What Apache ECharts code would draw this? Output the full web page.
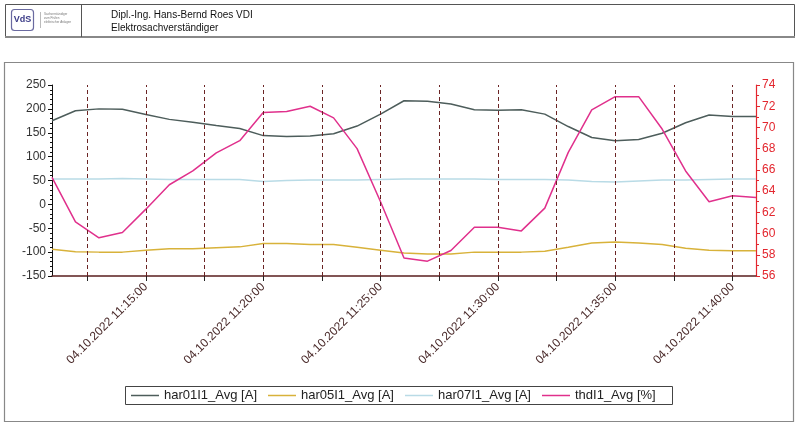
<!DOCTYPE html>
<html>
<head>
<meta charset="utf-8">
<script src="https://cdn.jsdelivr.net/npm/echarts@6/dist/echarts.min.js"></script>
<style>
html,body{margin:0;padding:0;background:#fff;}
#c{width:800px;height:428px;}
</style>
</head>
<body>
<div id="c"></div>
<script>
const dateLabel = '04.10.2022';
const times = ['11:11:00','11:12:00','11:13:00','11:14:00','11:15:00','11:16:00','11:17:00','11:18:00','11:19:00','11:20:00',
  '11:21:00','11:22:00','11:23:00','11:24:00','11:25:00','11:26:00','11:27:00','11:28:00','11:29:00','11:30:00',
  '11:31:00','11:32:00','11:33:00','11:34:00','11:35:00','11:36:00','11:37:00','11:38:00','11:39:00','11:40:00','11:41:00'];
const har01 = [175,196,200,199,188,178,172,165,159,144,142,143,148,164,189,217,216,210,198,197,198,189,163,140,133,136,149,171,187,184,184];
const har05 = [-94,-99,-100,-100,-96,-93,-93,-91,-89,-82,-82,-84,-84,-90,-96,-102,-104,-104,-100,-100,-100,-98,-90,-81,-79,-81,-84,-92,-96,-97,-97];
const har07 = [53,53,53,54,53,52,52,52,52,48,50,51,51,51,52,53,53,53,53,52,52,52,51,48,47,49,51,51,52,53,53];
const thd = [65.3,61.1,59.6,60.1,62.3,64.6,65.9,67.6,68.75,71.4,71.5,72.0,70.9,68.0,63.0,57.7,57.4,58.4,60.6,60.6,60.25,62.4,67.65,71.66,72.9,72.9,69.85,65.9,63.0,63.56,63.4];
const tickTimes = ['11:12:30','11:15:00','11:17:30','11:20:00','11:22:30','11:25:00','11:27:30','11:30:00','11:32:30','11:35:00','11:37:30','11:40:00'];
const labelTimes = ['11:15:00','11:20:00','11:25:00','11:30:00','11:35:00','11:40:00'];
const seriesNames = ['har01I1_Avg [A]','har05I1_Avg [A]','har07I1_Avg [A]','thdI1_Avg [%]'];

function toMin(s){const p=s.split(':').map(Number);return p[0]*60+p[1]+p[2]/60;}
function pad(n){return (n<10?'0':'')+n;}
function fmt(v){const tot=Math.round(v*60);const h=Math.floor(tot/3600),m=Math.floor(tot%3600/60),s=tot%60;return dateLabel+' '+pad(h)+':'+pad(m)+':'+pad(s);}
const xs = times.map(toMin);
const pts = arr => arr.map((v,i)=>[xs[i],v]);

const chart = echarts.init(document.getElementById('c'), null, {renderer:'canvas'});
const tickColor = '#5a1e1e';
chart.setOption({
  animation:false,
  backgroundColor:'#fff',
  textStyle:{fontFamily:'Liberation Sans, Arial, sans-serif'},
  graphic:[
    {type:'rect',shape:{x:5.5,y:4.5,width:789,height:32},style:{fill:'#fff',stroke:'#555',lineWidth:1}},
    {type:'line',shape:{x1:5,y1:37,x2:795,y2:37},style:{stroke:'#888',lineWidth:2}},
    {type:'line',shape:{x1:81.5,y1:5,x2:81.5,y2:37},style:{stroke:'#555',lineWidth:1}},
    {type:'rect',shape:{x:11.5,y:9.5,width:22,height:21,r:3},style:{fill:'#fff',stroke:'#6a6aa0',lineWidth:1.2}},
    {type:'text',x:22.5,y:20,style:{text:'VdS',font:'bold 9px Liberation Sans, Arial, sans-serif',fill:'#3c3c88',align:'center',verticalAlign:'middle'}},
    {type:'line',shape:{x1:40.5,y1:12,x2:40.5,y2:28},style:{stroke:'#bbb',lineWidth:1}},
    {type:'text',x:44,y:12,style:{text:'Sachverständiger\nzum Prüfen\nelektrischer Anlagen',font:'3px Liberation Sans, Arial, sans-serif',lineHeight:4,fill:'#777'}},
    {type:'text',x:111,y:10,style:{text:'Dipl.-Ing. Hans-Bernd Roes VDI',font:'10px Liberation Sans, Arial, sans-serif',fill:'#111'}},
    {type:'text',x:111,y:23,style:{text:'Elektrosachverständiger',font:'10px Liberation Sans, Arial, sans-serif',fill:'#111'}},
    {type:'rect',shape:{x:4.5,y:62.5,width:789,height:359},style:{fill:'none',stroke:'#888',lineWidth:1.2}},
    {type:'rect',shape:{x:125.5,y:386.5,width:547,height:18},style:{fill:'none',stroke:'#444',lineWidth:1}}
  ],
  grid:{left:52,right:44,top:85,bottom:152},
  legend:{
    left:131,top:389,padding:0,itemWidth:28,itemHeight:1.5,itemGap:11,icon:'rect',
    data:seriesNames,
    textStyle:{fontSize:13,color:'#222'}
  },
  xAxis:{
    type:'value',min:xs[0],max:xs[xs.length-1],
    axisLine:{onZero:false,lineStyle:{color:tickColor,width:1.5}},
    axisTick:{show:true,length:5,lineStyle:{color:'#222',width:1},customValues:tickTimes.map(toMin)},
    axisLabel:{rotate:45,fontSize:12,color:'#4a2a2a',margin:9,formatter:v=>fmt(v),customValues:labelTimes.map(toMin),hideOverlap:false},
    splitLine:{show:false}
  },
  yAxis:[
    {type:'value',min:-150,max:250,interval:50,position:'left',
     axisLine:{show:true,lineStyle:{color:'#111',width:1}},
     axisTick:{show:true,length:4,lineStyle:{color:'#111'}},
     minorTick:{show:true,splitNumber:5,length:2,lineStyle:{color:'#111'}},
     axisLabel:{fontSize:12,color:'#333',margin:6},
     splitLine:{show:false}},
    {type:'value',min:56,max:74,interval:2,position:'right',
     axisLine:{show:true,lineStyle:{color:'#e3262e',width:1.2}},
     axisTick:{show:true,length:4,lineStyle:{color:'#e3262e'}},
     minorTick:{show:true,splitNumber:2,length:3,lineStyle:{color:'#e3262e'}},
     axisLabel:{fontSize:12,color:'#e3262e',margin:6},
     splitLine:{show:false}}
  ],
  series:[
    {name:seriesNames[0],type:'line',data:pts(har01),showSymbol:false,symbol:'none',lineStyle:{width:1.5,color:'#4d5d5b'},itemStyle:{color:'#4d5d5b'},
     markLine:{silent:true,symbol:'none',label:{show:false},lineStyle:{type:[4,3],color:'#6b2424',width:1},
       data:tickTimes.map(t=>({xAxis:toMin(t)}))}},
    {name:seriesNames[1],type:'line',data:pts(har05),showSymbol:false,symbol:'none',lineStyle:{width:1.5,color:'#d8b23a'},itemStyle:{color:'#d8b23a'}},
    {name:seriesNames[2],type:'line',data:pts(har07),showSymbol:false,symbol:'none',lineStyle:{width:1.5,color:'#b9dbe6'},itemStyle:{color:'#b9dbe6'}},
    {name:seriesNames[3],type:'line',yAxisIndex:1,data:pts(thd),showSymbol:false,symbol:'none',lineStyle:{width:1.5,color:'#e0308c'},itemStyle:{color:'#e0308c'}}
  ]
});
</script>
</body>
</html>
